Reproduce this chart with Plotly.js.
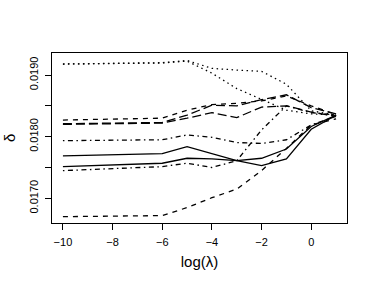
<!DOCTYPE html>
<html>
<head>
<meta charset="utf-8">
<script src="https://cdn.plot.ly/plotly-3.0.1.min.js"></script>
<style>
html,body{margin:0;padding:0;background:#fff;}
#chart{width:374px;height:291px;}
</style>
</head>
<body>
<div id="chart"></div>
<script>
// x positions (log lambda)
var logLambda = [-10, -6, -5, -4, -3, -2, -1, 0, 1];

// series values (delta)
var solidA   = [0.017687, 0.017725, 0.017838, 0.017720, 0.017610, 0.017530, 0.017640, 0.018120, 0.018350];
var solidB   = [0.017514, 0.017569, 0.017650, 0.017640, 0.017610, 0.017650, 0.017800, 0.018165, 0.018350];
var dashTop  = [0.018270, 0.018300, 0.018430, 0.018520, 0.018540, 0.018580, 0.018660, 0.018500, 0.018360];
var dashLow  = [0.016703, 0.016720, 0.016850, 0.017010, 0.017150, 0.017450, 0.017810, 0.018190, 0.018290];
var dotA     = [0.019178, 0.019200, 0.019235, 0.019108, 0.019080, 0.019060, 0.018850, 0.018420, 0.018350];
var dotB     = [0.019178, 0.019195, 0.019225, 0.019030, 0.018780, 0.018600, 0.018430, 0.018370, 0.018350];
var dotdashA = [0.017935, 0.017950, 0.018028, 0.017990, 0.017905, 0.017890, 0.017950, 0.018190, 0.018330];
var dotdashB = [0.017449, 0.017514, 0.017570, 0.017500, 0.017610, 0.018110, 0.018500, 0.018390, 0.018350];
var longA    = [0.018210, 0.018230, 0.018350, 0.018510, 0.018500, 0.018600, 0.018680, 0.018470, 0.018370];
var longB    = [0.018200, 0.018220, 0.018300, 0.018390, 0.018310, 0.018480, 0.018500, 0.018400, 0.018330];

// tick labels
var xTickVals = [-10, -8, -6, -4, -2, 0];
var yTickVals = [0.0170, 0.0175, 0.0180, 0.0185, 0.0190];
var yTickText = ["0.0170", "", "0.0180", "", "0.0190"];
var xTitle = "log(λ)";
var yTitle = "δ";

var series = [
  {y: solidA,   dash: "solid"},
  {y: dashTop,  dash: "5px,5px"},
  {y: dotA,     dash: "1.5px,3.5px"},
  {y: dotdashA, dash: "1.5px,3.5px,5px,3.5px"},
  {y: longA,    dash: "9px,4px"},
  {y: solidB,   dash: "solid"},
  {y: dashLow,  dash: "5px,5px"},
  {y: dotB,     dash: "1.5px,3.5px"},
  {y: dotdashB, dash: "1.5px,3.5px,5px,3.5px"},
  {y: longB,    dash: "9px,4px"}
];

var traces = series.map(function(s){
  return {
    x: logLambda, y: s.y, type: "scatter", mode: "lines",
    line: {color: "#000", width: 1.3, dash: s.dash},
    hoverinfo: "skip", showlegend: false
  };
});

var font = "Liberation Sans, Arial, Helvetica, sans-serif";
var layout = {
  width: 374, height: 291,
  margin: {l: 52, r: 27, t: 53, b: 68},
  paper_bgcolor: "#fff", plot_bgcolor: "#fff",
  showlegend: false,
  font: {family: font, color: "#000", size: 11},
  xaxis: {
    range: [-10.44, 1.44],
    tickvals: xTickVals,
    ticks: "outside", ticklen: 6, tickcolor: "#000", tickwidth: 1,
    ticklabelstandoff: 3,
    showline: true, mirror: true, linecolor: "#000", linewidth: 1,
    showgrid: false, zeroline: false,
    tickfont: {family: font, size: 11, color: "#000"},
    title: {text: xTitle, font: {family: font, size: 15, color: "#000"}, standoff: 9}
  },
  yaxis: {
    range: [0.016600, 0.019357],
    tickvals: yTickVals, ticktext: yTickText,
    tickangle: -90,
    ticks: "outside", ticklen: 6, tickcolor: "#000", tickwidth: 1,
    ticklabelstandoff: 3,
    showline: true, mirror: true, linecolor: "#000", linewidth: 1,
    showgrid: false, zeroline: false,
    tickfont: {family: font, size: 11, color: "#000"}
  },
  annotations: [{
    text: yTitle, textangle: -90, showarrow: false,
    xref: "paper", yref: "paper",
    x: (9 - 52) / 295, y: 0.5, xanchor: "center", yanchor: "middle",
    font: {family: font, size: 15, color: "#000"}
  }]
};

Plotly.newPlot("chart", traces, layout, {staticPlot: true, displayModeBar: false});
</script>
</body>
</html>
